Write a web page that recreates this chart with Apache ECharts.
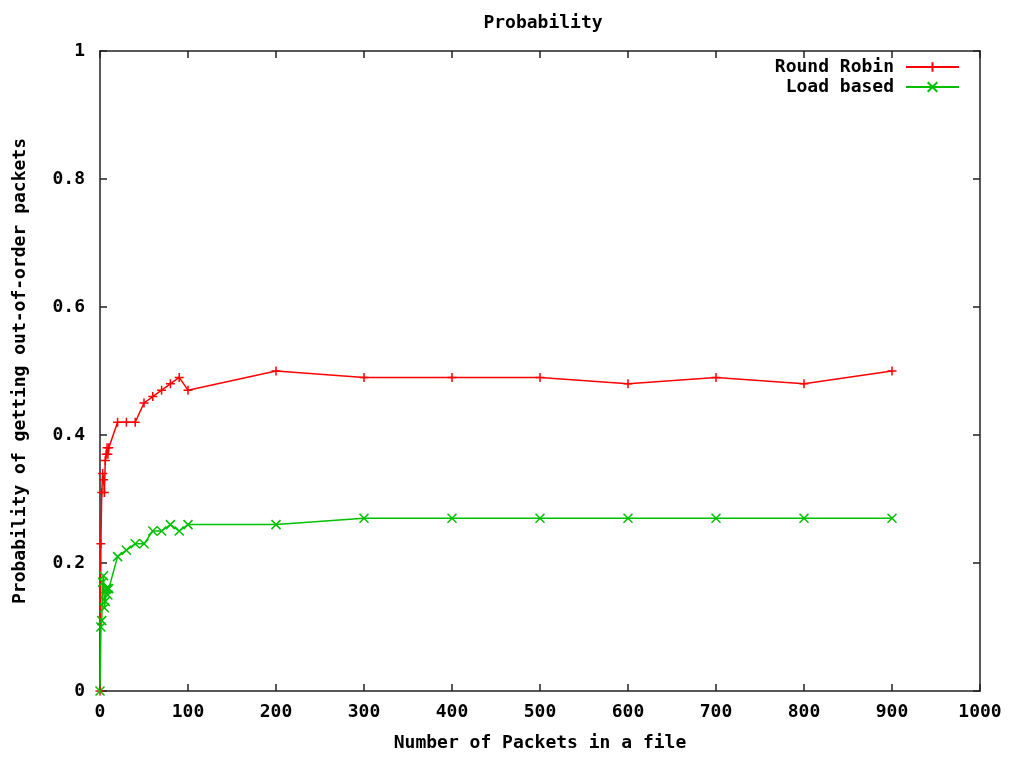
<!DOCTYPE html>
<html>
<head>
<meta charset="utf-8">
<script src="https://cdn.jsdelivr.net/npm/echarts@6/dist/echarts.min.js"></script>
<style>
  html, body { margin: 0; padding: 0; background: #fff; }
  #chart { width: 1010px; height: 759px; }
</style>
</head>
<body>
<div id="chart"></div>
<script>
// 数据：文件中的包数 (x) 与乱序概率 (y)
var roundRobinX = [0, 1, 2, 3, 4, 5, 6, 7, 8, 9, 10, 20, 30, 40, 50, 60, 70, 80, 90, 100, 200, 300, 400, 500, 600, 700, 800, 900];
var roundRobinY = [0, 0.23, 0.31, 0.34, 0.33, 0.31, 0.36, 0.37, 0.38, 0.37, 0.38, 0.42, 0.42, 0.42, 0.45, 0.46, 0.47, 0.48, 0.49, 0.47, 0.50, 0.49, 0.49, 0.49, 0.48, 0.49, 0.48, 0.50];
var loadBasedX = [0, 1, 2, 3, 4, 5, 6, 7, 8, 9, 10, 20, 30, 40, 50, 60, 70, 80, 90, 100, 200, 300, 400, 500, 600, 700, 800, 900];
var loadBasedY = [0, 0.10, 0.11, 0.17, 0.18, 0.13, 0.14, 0.16, 0.16, 0.15, 0.16, 0.21, 0.22, 0.23, 0.23, 0.25, 0.25, 0.26, 0.25, 0.26, 0.26, 0.27, 0.27, 0.27, 0.27, 0.27, 0.27, 0.27];
var xTicks = [0, 1000, 100];   // min, max, interval
var yTicks = [0, 1, 0.2];

function pairs(xs, ys) {
  return xs.map(function (x, i) { return [x, ys[i]]; });
}

var font = 'DejaVu Sans Mono';
var plusPath = 'path://M5,0 L5,10 M0,5 L10,5';
var crossPath = 'path://M0,0 L10,10 M0,10 L10,0';
var red = '#ff0000';
var green = '#00c000';

var myChart = echarts.init(document.getElementById('chart'));
var axisLine = { show: true, onZero: false, lineStyle: { color: '#222', width: 1.5 } };
var tick = { show: true, inside: true, length: 7, lineStyle: { color: '#222', width: 1.5 } };
var label = { fontFamily: font, fontWeight: 'bold', fontSize: 18, color: '#000' };
var legendText = Object.assign({ padding: [0, 7, 0, 0] }, label);

var option = {
  animation: false,
  backgroundColor: '#fff',
  title: {
    text: 'Probability',
    left: 538, top: 9, textAlign: 'center',
    textStyle: label
  },
  grid: { left: 100, right: 30, top: 51, bottom: 68 },
  legend: [
    {
      data: ['Round Robin'], right: 50, top: 58,
      itemWidth: 53, itemHeight: 12, itemGap: 12, align: 'right', padding: 0,
      textStyle: legendText
    },
    {
      data: ['Load based'], right: 50, top: 78,
      itemWidth: 53, itemHeight: 12, itemGap: 12, align: 'right', padding: 0,
      textStyle: legendText
    }
  ],
  xAxis: [
    {
      type: 'value', min: xTicks[0], max: xTicks[1], interval: xTicks[2],
      name: 'Number of Packets in a file', nameLocation: 'middle', nameGap: 43,
      nameTextStyle: label,
      axisLine: axisLine, axisTick: tick, splitLine: { show: false },
      axisLabel: Object.assign({ margin: 12, formatter: function (v) { return String(v); } }, label)
    },
    {
      type: 'value', position: 'top', min: xTicks[0], max: xTicks[1], interval: xTicks[2],
      axisLine: axisLine, axisTick: tick, splitLine: { show: false },
      axisLabel: { show: false }
    }
  ],
  yAxis: [
    {
      type: 'value', min: yTicks[0], max: yTicks[1], interval: yTicks[2],
      name: 'Probability of getting out-of-order packets', nameLocation: 'middle', nameGap: 71,
      nameTextStyle: label,
      axisLine: axisLine, axisTick: tick, splitLine: { show: false },
      axisLabel: Object.assign({ margin: 15 }, label)
    },
    {
      type: 'value', position: 'right', min: yTicks[0], max: yTicks[1], interval: yTicks[2],
      axisLine: axisLine, axisTick: tick, splitLine: { show: false },
      axisLabel: { show: false }
    }
  ],
  series: [
    {
      name: 'Round Robin', type: 'line',
      xAxisIndex: 0, yAxisIndex: 0,
      data: pairs(roundRobinX, roundRobinY),
      symbol: plusPath, symbolSize: 9, showAllSymbol: true, clip: false,
      lineStyle: { color: red, width: 1.5 },
      itemStyle: { color: red, borderColor: red, borderWidth: 1.5 }
    },
    {
      name: 'Load based', type: 'line',
      xAxisIndex: 0, yAxisIndex: 0,
      data: pairs(loadBasedX, loadBasedY),
      symbol: crossPath, symbolSize: 9, showAllSymbol: true, clip: false,
      lineStyle: { color: green, width: 1.5 },
      itemStyle: { color: green, borderColor: green, borderWidth: 1.5 }
    }
  ]
};

myChart.setOption(option);
</script>
</body>
</html>
